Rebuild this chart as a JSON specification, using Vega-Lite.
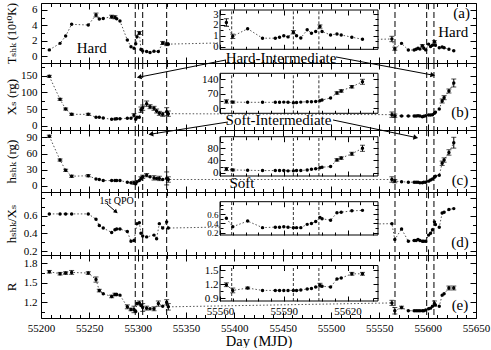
{
"$schema": "https://vega.github.io/schema/vega-lite/v6.json",
"padding": {"left": 4, "top": 1, "right": 0, "bottom": 0},
"autosize": {"type": "pad"},
"background": "white",
"config": {
  "view": {"stroke": "black", "strokeWidth": 1},
  "font": "Liberation Serif",
  "axis": {"labelFont": "Liberation Serif", "labelFontSize": 11, "labelColor": "black", "tickColor": "black", "tickWidth": 1, "titleFont": "Liberation Serif, DejaVu Serif", "titleFontWeight": "normal", "titleColor": "black", "grid": false, "domain": false, "labelOverlap": false, "labelFlush": false, "labelBound": false}
},
"datasets": {
  "vr": [{"d":55297.5},{"d":55305.2},{"d":55330},{"d":55566.2},{"d":55599},{"d":55606.5}],
  "ir": [{"d":55565.5},{"d":55594.5},{"d":55606.5}],
  "ann": [
    {"p":"a","k":"big","d":55252.4,"v":1.0,"t":"Hard"},
    {"p":"a","k":"big","d":55626.5,"v":3.17,"t":"Hard"},
    {"p":"a","k":"big","d":55635.2,"v":5.57,"t":"(a)"},
    {"p":"b","k":"big","d":55448.3,"v":203,"t":"Hard-Intermediate"},
    {"p":"b","k":"big","d":55633.4,"v":42,"t":"(b)"},
    {"p":"c","k":"big","d":55445.7,"v":122,"t":"Soft-Intermediate"},
    {"p":"c","k":"big","d":55407.9,"v":5.5,"t":"Soft"},
    {"p":"c","k":"big","d":55633.4,"v":11.1,"t":"(c)"},
    {"p":"d","k":"small","d":55278.3,"v":0.77,"t":"1st QPO"},
    {"p":"d","k":"big","d":55633.4,"v":0.306,"t":"(d)"},
    {"p":"e","k":"big","d":55633.4,"v":1.154,"t":"(e)"}
  ],
  "arr": [
    {"p":"b","id":"hil","d":55391.4,"v":197.1,"d2":55302.4,"v2":146.1},
    {"p":"b","id":"hir","d":55505.2,"v":206.1,"d2":55604.5,"v2":152.1},
    {"p":"c","id":"sil","d":55393.4,"v":118.3,"d2":55314.5,"v2":96.1},
    {"p":"c","id":"sir","d":55502.1,"v":122,"d2":55586.9,"v2":90.0},
    {"p":"d","id":"qpo","d":55268.3,"v":0.732,"d2":55277.1,"v2":0.648}
  ],
  "pts": [
    {"p":"a","d":55208.6,"v":0.8},{"p":"a","d":55219.7,"v":1.65},{"p":"a","d":55225.5,"v":2.6},{"p":"a","d":55231.7,"v":4.13},{"p":"a","d":55248.9,"v":4.04},{"p":"a","d":55256.9,"v":5.35,"e":0.25},{"p":"a","d":55260.3,"v":4.82},{"p":"a","d":55264.4,"v":4.9},{"p":"a","d":55273.1,"v":5.12,"e":0.2},{"p":"a","d":55276.5,"v":5.05,"e":0.2},{"p":"a","d":55278.3,"v":4.85},{"p":"a","d":55281.7,"v":4.56},{"p":"a","d":55289.3,"v":2.09},{"p":"a","d":55293.1,"v":1.2},{"p":"a","d":55296.2,"v":1.0},{"p":"a","d":55298,"v":1.6},{"p":"a","d":55299.3,"v":2.5},{"p":"a","d":55301.7,"v":3.0,"e":0.2},{"p":"a","d":55303.4,"v":0.85},{"p":"a","d":55305.2,"v":0.65},{"p":"a","d":55309.3,"v":0.6},{"p":"a","d":55312.8,"v":0.45},{"p":"a","d":55316.9,"v":0.62},{"p":"a","d":55321.4,"v":0.6},{"p":"a","d":55325.9,"v":1.7,"e":0.2},{"p":"a","d":55330,"v":1.55,"e":0.2},{"p":"a","d":55331.7,"v":1.55},
    {"p":"a","d":55563,"v":2.22,"e":0.35},{"p":"a","d":55566,"v":0.95,"e":0.2},{"p":"a","d":55573,"v":1.65},{"p":"a","d":55580,"v":0.78},{"p":"a","d":55586,"v":0.78},{"p":"a","d":55588,"v":0.87},{"p":"a","d":55590,"v":1.0},{"p":"a","d":55592,"v":0.9},{"p":"a","d":55594.5,"v":1.33,"e":0.15},{"p":"a","d":55596,"v":1.0},{"p":"a","d":55598,"v":0.8},{"p":"a","d":55601,"v":1.55},{"p":"a","d":55603,"v":1.24},{"p":"a","d":55605,"v":1.4},{"p":"a","d":55607,"v":1.85,"e":0.15},{"p":"a","d":55608,"v":1.39},{"p":"a","d":55612,"v":1.08},{"p":"a","d":55615,"v":1.17},{"p":"a","d":55617,"v":1.08},{"p":"a","d":55622,"v":0.87},{"p":"a","d":55627,"v":0.68},
    {"p":"b","d":55208.6,"v":148,"e":3},{"p":"b","d":55219.7,"v":79,"e":3},{"p":"b","d":55225.5,"v":50,"e":3},{"p":"b","d":55231.7,"v":34,"e":3},{"p":"b","d":55248.9,"v":34,"e":3},{"p":"b","d":55256.9,"v":25},{"p":"b","d":55260.3,"v":25},{"p":"b","d":55264.4,"v":23},{"p":"b","d":55273.1,"v":19},{"p":"b","d":55276.5,"v":20},{"p":"b","d":55278.3,"v":21},{"p":"b","d":55281.7,"v":21},{"p":"b","d":55289.3,"v":22},{"p":"b","d":55293.1,"v":22},{"p":"b","d":55296.2,"v":31,"e":5},{"p":"b","d":55298,"v":19},{"p":"b","d":55299.3,"v":25},{"p":"b","d":55301.7,"v":25},{"p":"b","d":55303.4,"v":48,"e":8},{"p":"b","d":55305.2,"v":54,"e":8},{"p":"b","d":55309.3,"v":66,"e":8},{"p":"b","d":55312.8,"v":57,"e":6},{"p":"b","d":55316.9,"v":52,"e":6},{"p":"b","d":55319.6,"v":44,"e":6},{"p":"b","d":55322.4,"v":37,"e":6},{"p":"b","d":55325.9,"v":34,"e":6},{"p":"b","d":55330,"v":42,"e":12},{"p":"b","d":55331.7,"v":36,"e":8},
    {"p":"b","d":55563,"v":33,"e":8},{"p":"b","d":55566,"v":30,"e":5},{"p":"b","d":55573,"v":29},{"p":"b","d":55580,"v":29},{"p":"b","d":55586,"v":29},{"p":"b","d":55588,"v":29},{"p":"b","d":55590,"v":30},{"p":"b","d":55592,"v":29},{"p":"b","d":55594.5,"v":27},{"p":"b","d":55596,"v":28},{"p":"b","d":55598,"v":30},{"p":"b","d":55601,"v":32},{"p":"b","d":55603,"v":32},{"p":"b","d":55605,"v":33},{"p":"b","d":55607,"v":37},{"p":"b","d":55608,"v":40},{"p":"b","d":55612,"v":50},{"p":"b","d":55615,"v":74,"e":6},{"p":"b","d":55617,"v":84,"e":6},{"p":"b","d":55622,"v":104,"e":6},{"p":"b","d":55627,"v":128,"e":12},
    {"p":"c","d":55208.6,"v":92,"e":2},{"p":"c","d":55219.7,"v":48,"e":2},{"p":"c","d":55225.5,"v":29,"e":2},{"p":"c","d":55231.7,"v":18,"e":2},{"p":"c","d":55248.9,"v":19,"e":2},{"p":"c","d":55256.9,"v":13},{"p":"c","d":55260.3,"v":12},{"p":"c","d":55264.4,"v":10},{"p":"c","d":55273.1,"v":10},{"p":"c","d":55276.5,"v":10},{"p":"c","d":55278.3,"v":10},{"p":"c","d":55281.7,"v":10},{"p":"c","d":55289.3,"v":7},{"p":"c","d":55293.1,"v":6},{"p":"c","d":55296.2,"v":6,"e":3},{"p":"c","d":55298,"v":4},{"p":"c","d":55299.3,"v":8},{"p":"c","d":55301.7,"v":10},{"p":"c","d":55303.4,"v":14,"e":3},{"p":"c","d":55305.2,"v":17,"e":3},{"p":"c","d":55309.3,"v":20,"e":3},{"p":"c","d":55312.8,"v":17},{"p":"c","d":55316.9,"v":15,"e":4},{"p":"c","d":55319.6,"v":14},{"p":"c","d":55322.4,"v":14,"e":4},{"p":"c","d":55325.9,"v":12},{"p":"c","d":55330,"v":14,"e":12},{"p":"c","d":55331.7,"v":12,"e":5},
    {"p":"c","d":55563,"v":12,"e":5},{"p":"c","d":55566,"v":9,"e":3},{"p":"c","d":55573,"v":8},{"p":"c","d":55580,"v":7},{"p":"c","d":55586,"v":7},{"p":"c","d":55588,"v":7},{"p":"c","d":55590,"v":7},{"p":"c","d":55592,"v":6},{"p":"c","d":55594.5,"v":6},{"p":"c","d":55596,"v":7},{"p":"c","d":55598,"v":7},{"p":"c","d":55601,"v":9},{"p":"c","d":55603,"v":11},{"p":"c","d":55605,"v":13},{"p":"c","d":55607,"v":16},{"p":"c","d":55608,"v":18},{"p":"c","d":55612,"v":20},{"p":"c","d":55615,"v":42,"e":4},{"p":"c","d":55617,"v":48,"e":4},{"p":"c","d":55622,"v":62,"e":5},{"p":"c","d":55627,"v":80,"e":10},
    {"p":"d","d":55208.6,"v":0.62},{"p":"d","d":55219.7,"v":0.62},{"p":"d","d":55225.5,"v":0.62},{"p":"d","d":55231.7,"v":0.62},{"p":"d","d":55248.9,"v":0.62},{"p":"d","d":55256.9,"v":0.56},{"p":"d","d":55260.3,"v":0.49},{"p":"d","d":55264.4,"v":0.46},{"p":"d","d":55273.1,"v":0.41},{"p":"d","d":55276.5,"v":0.44},{"p":"d","d":55278.3,"v":0.45},{"p":"d","d":55281.7,"v":0.45},{"p":"d","d":55289.3,"v":0.42},{"p":"d","d":55293.1,"v":0.31},{"p":"d","d":55296.2,"v":0.32},{"p":"d","d":55299.3,"v":0.51},{"p":"d","d":55301.7,"v":0.52},{"p":"d","d":55303.4,"v":0.4},{"p":"d","d":55305.2,"v":0.37},{"p":"d","d":55309.3,"v":0.36},{"p":"d","d":55316.9,"v":0.38},{"p":"d","d":55319.6,"v":0.34},{"p":"d","d":55322.4,"v":0.51},{"p":"d","d":55325.9,"v":0.46},{"p":"d","d":55330,"v":0.53},{"p":"d","d":55331.7,"v":0.46},
    {"p":"d","d":55563,"v":0.51},{"p":"d","d":55566,"v":0.33},{"p":"d","d":55573,"v":0.45},{"p":"d","d":55580,"v":0.31},{"p":"d","d":55586,"v":0.32},{"p":"d","d":55588,"v":0.32},{"p":"d","d":55590,"v":0.33},{"p":"d","d":55592,"v":0.32},{"p":"d","d":55594.5,"v":0.31},{"p":"d","d":55596,"v":0.31},{"p":"d","d":55598,"v":0.31},{"p":"d","d":55601,"v":0.38},{"p":"d","d":55603,"v":0.4},{"p":"d","d":55605,"v":0.44},{"p":"d","d":55607,"v":0.53},{"p":"d","d":55608,"v":0.5},{"p":"d","d":55612,"v":0.47},{"p":"d","d":55615,"v":0.63},{"p":"d","d":55617,"v":0.64},{"p":"d","d":55622,"v":0.67},{"p":"d","d":55627,"v":0.68},
    {"p":"e","d":55208.6,"v":1.67,"e":0.02},{"p":"e","d":55219.7,"v":1.64,"e":0.02},{"p":"e","d":55225.5,"v":1.65,"e":0.02},{"p":"e","d":55231.7,"v":1.66,"e":0.03},{"p":"e","d":55248.9,"v":1.65,"e":0.02},{"p":"e","d":55256.9,"v":1.55,"e":0.04},{"p":"e","d":55260.3,"v":1.38,"e":0.02},{"p":"e","d":55264.4,"v":1.33},{"p":"e","d":55273.1,"v":1.29,"e":0.02},{"p":"e","d":55276.5,"v":1.32,"e":0.02},{"p":"e","d":55278.3,"v":1.32},{"p":"e","d":55281.7,"v":1.31},{"p":"e","d":55289.3,"v":1.13,"e":0.03},{"p":"e","d":55293.1,"v":1.09,"e":0.02},{"p":"e","d":55296.2,"v":1.09,"e":0.05},{"p":"e","d":55298,"v":1.06},{"p":"e","d":55299.3,"v":1.18},{"p":"e","d":55301.7,"v":1.19,"e":0.03},{"p":"e","d":55303.4,"v":1.15},{"p":"e","d":55305.2,"v":1.12,"e":0.06},{"p":"e","d":55309.3,"v":1.11,"e":0.03},{"p":"e","d":55312.8,"v":1.1},{"p":"e","d":55316.9,"v":1.1,"e":0.03},{"p":"e","d":55321.4,"v":1.18,"e":0.04},{"p":"e","d":55325.9,"v":1.14},{"p":"e","d":55330,"v":1.2,"e":0.04},{"p":"e","d":55331.7,"v":1.13,"e":0.05},
    {"p":"e","d":55563,"v":1.19,"e":0.04},{"p":"e","d":55566,"v":1.07,"e":0.05},{"p":"e","d":55573,"v":1.12,"e":0.02},{"p":"e","d":55580,"v":1.07},{"p":"e","d":55586,"v":1.07},{"p":"e","d":55588,"v":1.07},{"p":"e","d":55590,"v":1.07},{"p":"e","d":55592,"v":1.07},{"p":"e","d":55594.5,"v":1.07},{"p":"e","d":55596,"v":1.07},{"p":"e","d":55598,"v":1.08},{"p":"e","d":55601,"v":1.1},{"p":"e","d":55603,"v":1.11},{"p":"e","d":55605,"v":1.14},{"p":"e","d":55607,"v":1.18,"e":0.04},{"p":"e","d":55608,"v":1.16},{"p":"e","d":55612,"v":1.14},{"p":"e","d":55615,"v":1.31},{"p":"e","d":55617,"v":1.33},{"p":"e","d":55622,"v":1.42,"e":0.03},{"p":"e","d":55627,"v":1.42,"e":0.03}
  ]
},
"spacing": 0,
"bounds": "flush",
"resolve": {"scale": {"x": "independent", "y": "independent"}},
"vconcat": [
{
 "width": 435, "height": 60,
 "resolve": {"scale": {"x": "independent", "y": "independent"}},
 "layer": [
  {"layer": [
    {"data": {"name": "vr"}, "mark": {"type": "rule", "color": "black", "strokeWidth": 1, "strokeDash": [6, 3]},
     "encoding": {"x": {"field": "d", "type": "quantitative", "axis": null, "scale": {"domain": [55200, 55650], "nice": false, "zero": false}}}},
    {"data": {"name": "pts"}, "transform": [{"filter": "datum.p === 'a'"}],
     "encoding": {"x": {"field": "d", "type": "quantitative", "axis": null},
       "y": {"field": "v", "type": "quantitative", "axis": null, "scale": {"domain": [-0.91, 6.91], "nice": false, "zero": false}}},
     "layer": [
       {"mark": {"type": "line", "color": "#555", "strokeWidth": 1, "strokeDash": [1.5, 2]}},
       {"transform": [{"filter": "datum.e > 0"}], "mark": {"type": "errorbar", "ticks": true, "size": 5, "thickness": 1, "color": "black"}, "encoding": {"yError": {"field": "e"}}},
       {"mark": {"type": "circle", "size": 12, "color": "black", "opacity": 1}}
     ]},
    {"data": {"name": "ann"}, "transform": [{"filter": "datum.p === 'a'"}],
     "mark": {"type": "text", "font": "Liberation Serif", "fontSize": 15, "color": "black", "align": "center", "baseline": "middle"},
     "encoding": {"x": {"field": "d", "type": "quantitative", "axis": null}, "y": {"field": "v", "type": "quantitative", "axis": null}, "text": {"field": "t"}}}
  ]},
  {"data": {"values": [{}]}, "mark": {"type": "point", "opacity": 0},
   "encoding": {"x": {"datum": 55400, "type": "quantitative", "scale": {"domain": [55200, 55650], "nice": false, "zero": false},
      "axis": {"orient": "bottom", "values": [55200,55210,55220,55230,55240,55250,55260,55270,55280,55290,55300,55310,55320,55330,55340,55350,55360,55370,55380,55390,55400,55410,55420,55430,55440,55450,55460,55470,55480,55490,55500,55510,55520,55530,55540,55550,55560,55570,55580,55590,55600,55610,55620,55630,55640,55650], "labels": false, "tickSize": {"condition": {"test": "datum.value % 50 === 0", "value": -6}, "value": -3.5}, "title": null}},
     "y": {"datum": 1, "type": "quantitative", "scale": {"domain": [-0.91, 6.91], "nice": false, "zero": false},
      "axis": {"title": "Tₛₕₖ (10¹⁰K)", "orient": "left", "values": [0,2,4,6], "format": "d", "labelOverlap": false, "tickSize": -6, "labelPadding": 10, "titleX": -30, "titleY": 30, "titleAngle": -90, "titleAlign": "center", "titleBaseline": "middle", "titleFontSize": 12}}}},
  {"data": {"values": [{}]}, "mark": {"type": "point", "opacity": 0},
   "encoding": {"x": {"datum": 55400, "type": "quantitative", "scale": {"domain": [55200, 55650], "nice": false, "zero": false},
      "axis": {"orient": "top", "values": [55200,55210,55220,55230,55240,55250,55260,55270,55280,55290,55300,55310,55320,55330,55340,55350,55360,55370,55380,55390,55400,55410,55420,55430,55440,55450,55460,55470,55480,55490,55500,55510,55520,55530,55540,55550,55560,55570,55580,55590,55600,55610,55620,55630,55640,55650], "labels": false, "tickSize": {"condition": {"test": "datum.value % 50 === 0", "value": -6}, "value": -3.5}, "title": null}},
     "y": {"datum": 1, "type": "quantitative", "scale": {"domain": [-0.91, 6.91], "nice": false, "zero": false},
      "axis": {"orient": "right", "values": [0,1,2,3,4,5,6], "labels": false, "tickSize": {"condition": {"test": "datum.value % 2 === 0", "value": -6}, "value": -3.5}, "title": null}}}},
  {"data": {"values": [{}]}, "mark": {"type": "point", "opacity": 0},
   "encoding": {"x": {"datum": 55400, "type": "quantitative", "scale": {"domain": [55200, 55650], "nice": false, "zero": false}, "axis": null},
     "y": {"datum": 1, "type": "quantitative", "scale": {"domain": [-0.91, 6.91], "nice": false, "zero": false},
      "axis": {"orient": "left", "values": [1,3,5], "labels": false, "tickSize": -3.5, "title": null}}}},
  {"layer": [
    {"data": {"values": [{}]}, "mark": {"type": "rect", "fill": "white", "stroke": "black", "strokeWidth": 1},
     "encoding": {"x": {"datum": 55560, "type": "quantitative", "axis": null, "scale": {"domain": [55560, 55634.3], "range": [179, 337], "nice": false, "zero": false}}, "x2": {"datum": 55634.3},
       "y": {"datum": -0.24, "type": "quantitative", "axis": null, "scale": {"domain": [-0.24, 3.37], "range": [46.3, 7], "nice": false, "zero": false}}, "y2": {"datum": 3.37}}},
    {"data": {"name": "ir"}, "mark": {"type": "rule", "color": "black", "strokeWidth": 0.8, "strokeDash": [3, 2]},
     "encoding": {"x": {"field": "d", "type": "quantitative", "axis": null}, "y": {"datum": -0.24, "type": "quantitative", "axis": null}, "y2": {"datum": 3.37}}},
    {"data": {"name": "pts"}, "transform": [{"filter": "datum.p === 'a' && datum.d > 55500"}],
     "encoding": {"x": {"field": "d", "type": "quantitative", "axis": null}, "y": {"field": "v", "type": "quantitative", "axis": null}},
     "layer": [
       {"mark": {"type": "line", "color": "#555", "strokeWidth": 1, "strokeDash": [1.5, 2]}},
       {"transform": [{"filter": "datum.e > 0"}], "mark": {"type": "errorbar", "ticks": true, "size": 5, "thickness": 1, "color": "black"}, "encoding": {"yError": {"field": "e"}}},
       {"mark": {"type": "circle", "size": 12, "color": "black", "opacity": 1}}
     ]}
  ]},
  {"data": {"values": [{}]}, "mark": {"type": "point", "opacity": 0},
   "encoding": {"x": {"datum": 55600, "type": "quantitative", "scale": {"domain": [55560, 55634.3], "range": [179, 337], "nice": false, "zero": false},
      "axis": {"orient": "bottom", "offset": -13.7, "values": [55560,55566,55572,55578,55584,55590,55596,55602,55608,55614,55620,55626,55632], "labels": false, "tickSize": {"condition": {"test": "(datum.value - 55560) % 30 === 0", "value": -5}, "value": -3}, "title": null, "zindex": 1}},
     "y": {"datum": 1, "type": "quantitative", "scale": {"domain": [-0.24, 3.37], "range": [46.3, 7], "nice": false, "zero": false},
      "axis": {"orient": "left", "offset": -179, "values": [0,1,2,3], "format": "d", "labelOverlap": false, "labelFontSize": 10.5, "tickSize": -5, "labelPadding": 7, "title": null, "zindex": 1}}}},
  {"data": {"values": [{}]}, "mark": {"type": "point", "opacity": 0},
   "encoding": {"x": {"datum": 55600, "type": "quantitative", "scale": {"domain": [55560, 55634.3], "range": [179, 337], "nice": false, "zero": false},
      "axis": {"orient": "top", "offset": -7, "values": [55560,55566,55572,55578,55584,55590,55596,55602,55608,55614,55620,55626,55632], "labels": false, "tickSize": {"condition": {"test": "(datum.value - 55560) % 30 === 0", "value": -5}, "value": -3}, "title": null, "zindex": 1}},
     "y": {"datum": 1, "type": "quantitative", "scale": {"domain": [-0.24, 3.37], "range": [46.3, 7], "nice": false, "zero": false},
      "axis": {"orient": "right", "offset": -98, "values": [0,0.5,1,1.5,2,2.5,3], "labels": false, "tickSize": {"condition": {"test": "datum.value % 1 === 0", "value": -5}, "value": -3}, "title": null, "zindex": 1}}}},
  {"data": {"values": [{}]}, "mark": {"type": "point", "opacity": 0},
   "encoding": {"x": {"datum": 55600, "type": "quantitative", "scale": {"domain": [55560, 55634.3], "range": [179, 337], "nice": false, "zero": false}, "axis": null},
     "y": {"datum": 1, "type": "quantitative", "scale": {"domain": [-0.24, 3.37], "range": [46.3, 7], "nice": false, "zero": false},
      "axis": {"orient": "left", "offset": -179, "values": [0.5,1.5,2.5], "labels": false, "tickSize": -3, "title": null, "zindex": 1}}}}
 ]
},
{
 "width": 435, "height": 67,
 "resolve": {"scale": {"x": "independent", "y": "independent"}},
 "layer": [
  {"layer": [
    {"data": {"name": "vr"}, "mark": {"type": "rule", "color": "black", "strokeWidth": 1, "strokeDash": [6, 3]},
     "encoding": {"x": {"field": "d", "type": "quantitative", "axis": null, "scale": {"domain": [55200, 55650], "nice": false, "zero": false}}}},
    {"data": {"name": "pts"}, "transform": [{"filter": "datum.p === 'b'"}],
     "encoding": {"x": {"field": "d", "type": "quantitative", "axis": null},
       "y": {"field": "v", "type": "quantitative", "axis": null, "scale": {"domain": [-13, 188], "nice": false, "zero": false}}},
     "layer": [
       {"mark": {"type": "line", "color": "#555", "strokeWidth": 1, "strokeDash": [1.5, 2]}},
       {"transform": [{"filter": "datum.e > 0"}], "mark": {"type": "errorbar", "ticks": true, "size": 5, "thickness": 1, "color": "black"}, "encoding": {"yError": {"field": "e"}}},
       {"mark": {"type": "circle", "size": 12, "color": "black", "opacity": 1}}
     ]},
    {"data": {"name": "arr"}, "transform": [{"filter": "datum.p === 'b'"}], "mark": {"type": "rule", "color": "black", "strokeWidth": 1},
     "encoding": {"x": {"field": "d", "type": "quantitative", "axis": null}, "x2": {"field": "d2"}, "y": {"field": "v", "type": "quantitative", "axis": null}, "y2": {"field": "v2"}}},
    {"data": {"name": "arr"}, "transform": [{"filter": "datum.id === 'hil'"}], "mark": {"type": "point", "shape": "triangle", "angle": 259, "size": 30, "filled": true, "color": "black", "opacity": 1},
     "encoding": {"x": {"field": "d2", "type": "quantitative", "axis": null}, "y": {"field": "v2", "type": "quantitative", "axis": null}}},
    {"data": {"name": "arr"}, "transform": [{"filter": "datum.id === 'hir'"}], "mark": {"type": "point", "shape": "triangle", "angle": 101, "size": 30, "filled": true, "color": "black", "opacity": 1},
     "encoding": {"x": {"field": "d2", "type": "quantitative", "axis": null}, "y": {"field": "v2", "type": "quantitative", "axis": null}}},
    {"data": {"name": "ann"}, "transform": [{"filter": "datum.p === 'b'"}],
     "mark": {"type": "text", "font": "Liberation Serif", "fontSize": 15, "color": "black", "align": "center", "baseline": "middle"},
     "encoding": {"x": {"field": "d", "type": "quantitative", "axis": null}, "y": {"field": "v", "type": "quantitative", "axis": null}, "text": {"field": "t"}}}
  ]},
  {"data": {"values": [{}]}, "mark": {"type": "point", "opacity": 0},
   "encoding": {"x": {"datum": 55400, "type": "quantitative", "scale": {"domain": [55200, 55650], "nice": false, "zero": false},
      "axis": {"orient": "bottom", "values": [55200,55210,55220,55230,55240,55250,55260,55270,55280,55290,55300,55310,55320,55330,55340,55350,55360,55370,55380,55390,55400,55410,55420,55430,55440,55450,55460,55470,55480,55490,55500,55510,55520,55530,55540,55550,55560,55570,55580,55590,55600,55610,55620,55630,55640,55650], "labels": false, "tickSize": {"condition": {"test": "datum.value % 50 === 0", "value": -6}, "value": -3.5}, "title": null}},
     "y": {"datum": 1, "type": "quantitative", "scale": {"domain": [-13, 188], "nice": false, "zero": false},
      "axis": {"title": "Xₛ (rg)", "orient": "left", "values": [0,50,100,150], "format": "d", "labelOverlap": false, "tickSize": -6, "labelPadding": 10, "titleX": -30, "titleY": 33.5, "titleAngle": -90, "titleAlign": "center", "titleBaseline": "middle", "titleFontSize": 13}}}},
  {"data": {"values": [{}]}, "mark": {"type": "point", "opacity": 0},
   "encoding": {"x": {"datum": 55400, "type": "quantitative", "scale": {"domain": [55200, 55650], "nice": false, "zero": false},
      "axis": {"orient": "top", "values": [55200,55210,55220,55230,55240,55250,55260,55270,55280,55290,55300,55310,55320,55330,55340,55350,55360,55370,55380,55390,55400,55410,55420,55430,55440,55450,55460,55470,55480,55490,55500,55510,55520,55530,55540,55550,55560,55570,55580,55590,55600,55610,55620,55630,55640,55650], "labels": false, "tickSize": {"condition": {"test": "datum.value % 50 === 0", "value": -6}, "value": -3.5}, "title": null}},
     "y": {"datum": 1, "type": "quantitative", "scale": {"domain": [-13, 188], "nice": false, "zero": false},
      "axis": {"orient": "right", "values": [0,25,50,75,100,125,150,175], "labels": false, "tickSize": {"condition": {"test": "datum.value % 50 === 0", "value": -6}, "value": -3.5}, "title": null}}}},
  {"data": {"values": [{}]}, "mark": {"type": "point", "opacity": 0},
   "encoding": {"x": {"datum": 55400, "type": "quantitative", "scale": {"domain": [55200, 55650], "nice": false, "zero": false}, "axis": null},
     "y": {"datum": 1, "type": "quantitative", "scale": {"domain": [-13, 188], "nice": false, "zero": false},
      "axis": {"orient": "left", "values": [25,75,125,175], "labels": false, "tickSize": -3.5, "title": null}}}},
  {"layer": [
    {"data": {"values": [{}]}, "mark": {"type": "rect", "fill": "white", "stroke": "black", "strokeWidth": 1},
     "encoding": {"x": {"datum": 55560, "type": "quantitative", "axis": null, "scale": {"domain": [55560, 55634.3], "range": [179, 337], "nice": false, "zero": false}}, "x2": {"datum": 55634.3},
       "y": {"datum": -24, "type": "quantitative", "axis": null, "scale": {"domain": [-24, 169], "range": [50.3, 10.3], "nice": false, "zero": false}}, "y2": {"datum": 169}}},
    {"data": {"name": "ir"}, "mark": {"type": "rule", "color": "black", "strokeWidth": 0.8, "strokeDash": [3, 2]},
     "encoding": {"x": {"field": "d", "type": "quantitative", "axis": null}, "y": {"datum": -24, "type": "quantitative", "axis": null}, "y2": {"datum": 169}}},
    {"data": {"name": "pts"}, "transform": [{"filter": "datum.p === 'b' && datum.d > 55500"}],
     "encoding": {"x": {"field": "d", "type": "quantitative", "axis": null}, "y": {"field": "v", "type": "quantitative", "axis": null}},
     "layer": [
       {"mark": {"type": "line", "color": "#555", "strokeWidth": 1, "strokeDash": [1.5, 2]}},
       {"transform": [{"filter": "datum.e > 0"}], "mark": {"type": "errorbar", "ticks": true, "size": 5, "thickness": 1, "color": "black"}, "encoding": {"yError": {"field": "e"}}},
       {"mark": {"type": "circle", "size": 12, "color": "black", "opacity": 1}}
     ]}
  ]},
  {"data": {"values": [{}]}, "mark": {"type": "point", "opacity": 0},
   "encoding": {"x": {"datum": 55600, "type": "quantitative", "scale": {"domain": [55560, 55634.3], "range": [179, 337], "nice": false, "zero": false},
      "axis": {"orient": "bottom", "offset": -16.7, "values": [55560,55566,55572,55578,55584,55590,55596,55602,55608,55614,55620,55626,55632], "labels": false, "tickSize": {"condition": {"test": "(datum.value - 55560) % 30 === 0", "value": -5}, "value": -3}, "title": null, "zindex": 1}},
     "y": {"datum": 1, "type": "quantitative", "scale": {"domain": [-24, 169], "range": [50.3, 10.3], "nice": false, "zero": false},
      "axis": {"orient": "left", "offset": -179, "values": [0,70,140], "format": "d", "labelOverlap": false, "tickSize": -5, "labelPadding": 7, "title": null, "zindex": 1}}}},
  {"data": {"values": [{}]}, "mark": {"type": "point", "opacity": 0},
   "encoding": {"x": {"datum": 55600, "type": "quantitative", "scale": {"domain": [55560, 55634.3], "range": [179, 337], "nice": false, "zero": false},
      "axis": {"orient": "top", "offset": -10.3, "values": [55560,55566,55572,55578,55584,55590,55596,55602,55608,55614,55620,55626,55632], "labels": false, "tickSize": {"condition": {"test": "(datum.value - 55560) % 30 === 0", "value": -5}, "value": -3}, "title": null, "zindex": 1}},
     "y": {"datum": 1, "type": "quantitative", "scale": {"domain": [-24, 169], "range": [50.3, 10.3], "nice": false, "zero": false},
      "axis": {"orient": "right", "offset": -98, "values": [0,35,70,105,140], "labels": false, "tickSize": {"condition": {"test": "datum.value % 70 === 0", "value": -5}, "value": -3}, "title": null, "zindex": 1}}}},
  {"data": {"values": [{}]}, "mark": {"type": "point", "opacity": 0},
   "encoding": {"x": {"datum": 55600, "type": "quantitative", "scale": {"domain": [55560, 55634.3], "range": [179, 337], "nice": false, "zero": false}, "axis": null},
     "y": {"datum": 1, "type": "quantitative", "scale": {"domain": [-24, 169], "range": [50.3, 10.3], "nice": false, "zero": false},
      "axis": {"orient": "left", "offset": -179, "values": [35,105], "labels": false, "tickSize": -3, "title": null, "zindex": 1}}}}
 ]
},
{
 "width": 435, "height": 62,
 "resolve": {"scale": {"x": "independent", "y": "independent"}},
 "layer": [
  {"layer": [
    {"data": {"name": "vr"}, "mark": {"type": "rule", "color": "black", "strokeWidth": 1, "strokeDash": [6, 3]},
     "encoding": {"x": {"field": "d", "type": "quantitative", "axis": null, "scale": {"domain": [55200, 55650], "nice": false, "zero": false}}}},
    {"data": {"name": "pts"}, "transform": [{"filter": "datum.p === 'c'"}],
     "encoding": {"x": {"field": "d", "type": "quantitative", "axis": null},
       "y": {"field": "v", "type": "quantitative", "axis": null, "scale": {"domain": [-11.1, 103.5], "nice": false, "zero": false}}},
     "layer": [
       {"mark": {"type": "line", "color": "#555", "strokeWidth": 1, "strokeDash": [1.5, 2]}},
       {"transform": [{"filter": "datum.e > 0"}], "mark": {"type": "errorbar", "ticks": true, "size": 5, "thickness": 1, "color": "black"}, "encoding": {"yError": {"field": "e"}}},
       {"mark": {"type": "circle", "size": 12, "color": "black", "opacity": 1}}
     ]},
    {"data": {"name": "arr"}, "transform": [{"filter": "datum.p === 'c'"}], "mark": {"type": "rule", "color": "black", "strokeWidth": 1},
     "encoding": {"x": {"field": "d", "type": "quantitative", "axis": null}, "x2": {"field": "d2"}, "y": {"field": "v", "type": "quantitative", "axis": null}, "y2": {"field": "v2"}}},
    {"data": {"name": "arr"}, "transform": [{"filter": "datum.id === 'sil'"}], "mark": {"type": "point", "shape": "triangle", "angle": 261, "size": 30, "filled": true, "color": "black", "opacity": 1},
     "encoding": {"x": {"field": "d2", "type": "quantitative", "axis": null}, "y": {"field": "v2", "type": "quantitative", "axis": null}}},
    {"data": {"name": "arr"}, "transform": [{"filter": "datum.id === 'sir'"}], "mark": {"type": "point", "shape": "triangle", "angle": 102, "size": 30, "filled": true, "color": "black", "opacity": 1},
     "encoding": {"x": {"field": "d2", "type": "quantitative", "axis": null}, "y": {"field": "v2", "type": "quantitative", "axis": null}}},
    {"data": {"name": "ann"}, "transform": [{"filter": "datum.p === 'c'"}],
     "mark": {"type": "text", "font": "Liberation Serif", "fontSize": 15, "color": "black", "align": "center", "baseline": "middle"},
     "encoding": {"x": {"field": "d", "type": "quantitative", "axis": null}, "y": {"field": "v", "type": "quantitative", "axis": null}, "text": {"field": "t"}}}
  ]},
  {"data": {"values": [{}]}, "mark": {"type": "point", "opacity": 0},
   "encoding": {"x": {"datum": 55400, "type": "quantitative", "scale": {"domain": [55200, 55650], "nice": false, "zero": false},
      "axis": {"orient": "bottom", "values": [55200,55210,55220,55230,55240,55250,55260,55270,55280,55290,55300,55310,55320,55330,55340,55350,55360,55370,55380,55390,55400,55410,55420,55430,55440,55450,55460,55470,55480,55490,55500,55510,55520,55530,55540,55550,55560,55570,55580,55590,55600,55610,55620,55630,55640,55650], "labels": false, "tickSize": {"condition": {"test": "datum.value % 50 === 0", "value": -6}, "value": -3.5}, "title": null}},
     "y": {"datum": 1, "type": "quantitative", "scale": {"domain": [-11.1, 103.5], "nice": false, "zero": false},
      "axis": {"title": "hₛₕₖ (rg)", "orient": "left", "values": [0,30,60,90], "format": "d", "labelOverlap": false, "tickSize": -6, "labelPadding": 10, "titleX": -30, "titleY": 31, "titleAngle": -90, "titleAlign": "center", "titleBaseline": "middle", "titleFontSize": 13}}}},
  {"data": {"values": [{}]}, "mark": {"type": "point", "opacity": 0},
   "encoding": {"x": {"datum": 55400, "type": "quantitative", "scale": {"domain": [55200, 55650], "nice": false, "zero": false},
      "axis": {"orient": "top", "values": [55200,55210,55220,55230,55240,55250,55260,55270,55280,55290,55300,55310,55320,55330,55340,55350,55360,55370,55380,55390,55400,55410,55420,55430,55440,55450,55460,55470,55480,55490,55500,55510,55520,55530,55540,55550,55560,55570,55580,55590,55600,55610,55620,55630,55640,55650], "labels": false, "tickSize": {"condition": {"test": "datum.value % 50 === 0", "value": -6}, "value": -3.5}, "title": null}},
     "y": {"datum": 1, "type": "quantitative", "scale": {"domain": [-11.1, 103.5], "nice": false, "zero": false},
      "axis": {"orient": "right", "values": [0,15,30,45,60,75,90], "labels": false, "tickSize": {"condition": {"test": "datum.value % 30 === 0", "value": -6}, "value": -3.5}, "title": null}}}},
  {"data": {"values": [{}]}, "mark": {"type": "point", "opacity": 0},
   "encoding": {"x": {"datum": 55400, "type": "quantitative", "scale": {"domain": [55200, 55650], "nice": false, "zero": false}, "axis": null},
     "y": {"datum": 1, "type": "quantitative", "scale": {"domain": [-11.1, 103.5], "nice": false, "zero": false},
      "axis": {"orient": "left", "values": [15,45,75], "labels": false, "tickSize": -3.5, "title": null}}}},
  {"layer": [
    {"data": {"values": [{}]}, "mark": {"type": "rect", "fill": "white", "stroke": "black", "strokeWidth": 1},
     "encoding": {"x": {"datum": 55560, "type": "quantitative", "axis": null, "scale": {"domain": [55560, 55634.3], "range": [179, 337], "nice": false, "zero": false}}, "x2": {"datum": 55634.3},
       "y": {"datum": -10.8, "type": "quantitative", "axis": null, "scale": {"domain": [-10.8, 118], "range": [46, 6.7], "nice": false, "zero": false}}, "y2": {"datum": 118}}},
    {"data": {"name": "ir"}, "mark": {"type": "rule", "color": "black", "strokeWidth": 0.8, "strokeDash": [3, 2]},
     "encoding": {"x": {"field": "d", "type": "quantitative", "axis": null}, "y": {"datum": -10.8, "type": "quantitative", "axis": null}, "y2": {"datum": 118}}},
    {"data": {"name": "pts"}, "transform": [{"filter": "datum.p === 'c' && datum.d > 55500"}],
     "encoding": {"x": {"field": "d", "type": "quantitative", "axis": null}, "y": {"field": "v", "type": "quantitative", "axis": null}},
     "layer": [
       {"mark": {"type": "line", "color": "#555", "strokeWidth": 1, "strokeDash": [1.5, 2]}},
       {"transform": [{"filter": "datum.e > 0"}], "mark": {"type": "errorbar", "ticks": true, "size": 5, "thickness": 1, "color": "black"}, "encoding": {"yError": {"field": "e"}}},
       {"mark": {"type": "circle", "size": 12, "color": "black", "opacity": 1}}
     ]}
  ]},
  {"data": {"values": [{}]}, "mark": {"type": "point", "opacity": 0},
   "encoding": {"x": {"datum": 55600, "type": "quantitative", "scale": {"domain": [55560, 55634.3], "range": [179, 337], "nice": false, "zero": false},
      "axis": {"orient": "bottom", "offset": -16, "values": [55560,55566,55572,55578,55584,55590,55596,55602,55608,55614,55620,55626,55632], "labels": false, "tickSize": {"condition": {"test": "(datum.value - 55560) % 30 === 0", "value": -5}, "value": -3}, "title": null, "zindex": 1}},
     "y": {"datum": 1, "type": "quantitative", "scale": {"domain": [-10.8, 118], "range": [46, 6.7], "nice": false, "zero": false},
      "axis": {"orient": "left", "offset": -179, "values": [0,40,80], "format": "d", "labelOverlap": false, "tickSize": -5, "labelPadding": 7, "title": null, "zindex": 1}}}},
  {"data": {"values": [{}]}, "mark": {"type": "point", "opacity": 0},
   "encoding": {"x": {"datum": 55600, "type": "quantitative", "scale": {"domain": [55560, 55634.3], "range": [179, 337], "nice": false, "zero": false},
      "axis": {"orient": "top", "offset": -6.7, "values": [55560,55566,55572,55578,55584,55590,55596,55602,55608,55614,55620,55626,55632], "labels": false, "tickSize": {"condition": {"test": "(datum.value - 55560) % 30 === 0", "value": -5}, "value": -3}, "title": null, "zindex": 1}},
     "y": {"datum": 1, "type": "quantitative", "scale": {"domain": [-10.8, 118], "range": [46, 6.7], "nice": false, "zero": false},
      "axis": {"orient": "right", "offset": -98, "values": [0,20,40,60,80,100], "labels": false, "tickSize": {"condition": {"test": "datum.value % 40 === 0", "value": -5}, "value": -3}, "title": null, "zindex": 1}}}},
  {"data": {"values": [{}]}, "mark": {"type": "point", "opacity": 0},
   "encoding": {"x": {"datum": 55600, "type": "quantitative", "scale": {"domain": [55560, 55634.3], "range": [179, 337], "nice": false, "zero": false}, "axis": null},
     "y": {"datum": 1, "type": "quantitative", "scale": {"domain": [-10.8, 118], "range": [46, 6.7], "nice": false, "zero": false},
      "axis": {"orient": "left", "offset": -179, "values": [20,60,100], "labels": false, "tickSize": -3, "title": null, "zindex": 1}}}}
 ]
},
{
 "width": 435, "height": 63,
 "resolve": {"scale": {"x": "independent", "y": "independent"}},
 "layer": [
  {"layer": [
    {"data": {"name": "vr"}, "mark": {"type": "rule", "color": "black", "strokeWidth": 1, "strokeDash": [6, 3]},
     "encoding": {"x": {"field": "d", "type": "quantitative", "axis": null, "scale": {"domain": [55200, 55650], "nice": false, "zero": false}}}},
    {"data": {"name": "pts"}, "transform": [{"filter": "datum.p === 'd'"}],
     "encoding": {"x": {"field": "d", "type": "quantitative", "axis": null},
       "y": {"field": "v", "type": "quantitative", "axis": null, "scale": {"domain": [0.155, 0.868], "nice": false, "zero": false}}},
     "layer": [
       {"mark": {"type": "line", "color": "#555", "strokeWidth": 1, "strokeDash": [1.5, 2]}},
       {"mark": {"type": "circle", "size": 12, "color": "black", "opacity": 1}}
     ]},
    {"data": {"name": "arr"}, "transform": [{"filter": "datum.p === 'd'"}], "mark": {"type": "rule", "color": "black", "strokeWidth": 1},
     "encoding": {"x": {"field": "d", "type": "quantitative", "axis": null}, "x2": {"field": "d2"}, "y": {"field": "v", "type": "quantitative", "axis": null}, "y2": {"field": "v2"}}},
    {"data": {"name": "arr"}, "transform": [{"filter": "datum.id === 'qpo'"}], "mark": {"type": "point", "shape": "triangle", "angle": 131, "size": 22, "filled": true, "color": "black", "opacity": 1},
     "encoding": {"x": {"field": "d2", "type": "quantitative", "axis": null}, "y": {"field": "v2", "type": "quantitative", "axis": null}}},
    {"data": {"name": "ann"}, "transform": [{"filter": "datum.p === 'd' && datum.k === 'big'"}],
     "mark": {"type": "text", "font": "Liberation Serif", "fontSize": 15, "color": "black", "align": "center", "baseline": "middle"},
     "encoding": {"x": {"field": "d", "type": "quantitative", "axis": null}, "y": {"field": "v", "type": "quantitative", "axis": null}, "text": {"field": "t"}}},
    {"data": {"name": "ann"}, "transform": [{"filter": "datum.p === 'd' && datum.k === 'small'"}],
     "mark": {"type": "text", "font": "Liberation Serif", "fontSize": 10, "color": "black", "align": "center", "baseline": "middle"},
     "encoding": {"x": {"field": "d", "type": "quantitative", "axis": null}, "y": {"field": "v", "type": "quantitative", "axis": null}, "text": {"field": "t"}}}
  ]},
  {"data": {"values": [{}]}, "mark": {"type": "point", "opacity": 0},
   "encoding": {"x": {"datum": 55400, "type": "quantitative", "scale": {"domain": [55200, 55650], "nice": false, "zero": false},
      "axis": {"orient": "bottom", "values": [55200,55210,55220,55230,55240,55250,55260,55270,55280,55290,55300,55310,55320,55330,55340,55350,55360,55370,55380,55390,55400,55410,55420,55430,55440,55450,55460,55470,55480,55490,55500,55510,55520,55530,55540,55550,55560,55570,55580,55590,55600,55610,55620,55630,55640,55650], "labels": false, "tickSize": {"condition": {"test": "datum.value % 50 === 0", "value": -6}, "value": -3.5}, "title": null}},
     "y": {"datum": 0.5, "type": "quantitative", "scale": {"domain": [0.155, 0.868], "nice": false, "zero": false},
      "axis": {"title": "hₛₕₖ/Xₛ", "orient": "left", "values": [0.2,0.4,0.6], "format": ".1f", "labelOverlap": false, "tickSize": -6, "labelPadding": 10, "titleX": -30, "titleY": 31.5, "titleAngle": -90, "titleAlign": "center", "titleBaseline": "middle", "titleFontSize": 13}}}},
  {"data": {"values": [{}]}, "mark": {"type": "point", "opacity": 0},
   "encoding": {"x": {"datum": 55400, "type": "quantitative", "scale": {"domain": [55200, 55650], "nice": false, "zero": false},
      "axis": {"orient": "top", "values": [55200,55210,55220,55230,55240,55250,55260,55270,55280,55290,55300,55310,55320,55330,55340,55350,55360,55370,55380,55390,55400,55410,55420,55430,55440,55450,55460,55470,55480,55490,55500,55510,55520,55530,55540,55550,55560,55570,55580,55590,55600,55610,55620,55630,55640,55650], "labels": false, "tickSize": {"condition": {"test": "datum.value % 50 === 0", "value": -6}, "value": -3.5}, "title": null}},
     "y": {"datum": 0.5, "type": "quantitative", "scale": {"domain": [0.155, 0.868], "nice": false, "zero": false},
      "axis": {"orient": "right", "values": [0.2,0.3,0.4,0.5,0.6,0.7,0.8], "labels": false, "tickSize": {"condition": {"test": "round(datum.value*10) % 2 === 0", "value": -6}, "value": -3.5}, "title": null}}}},
  {"data": {"values": [{}]}, "mark": {"type": "point", "opacity": 0},
   "encoding": {"x": {"datum": 55400, "type": "quantitative", "scale": {"domain": [55200, 55650], "nice": false, "zero": false}, "axis": null},
     "y": {"datum": 0.5, "type": "quantitative", "scale": {"domain": [0.155, 0.868], "nice": false, "zero": false},
      "axis": {"orient": "left", "values": [0.3,0.5,0.7,0.8], "labels": false, "tickSize": -3.5, "title": null}}}},
  {"layer": [
    {"data": {"values": [{}]}, "mark": {"type": "rect", "fill": "white", "stroke": "black", "strokeWidth": 1},
     "encoding": {"x": {"datum": 55560, "type": "quantitative", "axis": null, "scale": {"domain": [55560, 55634.3], "range": [179, 337], "nice": false, "zero": false}}, "x2": {"datum": 55634.3},
       "y": {"datum": 0.152, "type": "quantitative", "axis": null, "scale": {"domain": [0.152, 0.866], "range": [43, 9.7], "nice": false, "zero": false}}, "y2": {"datum": 0.866}}},
    {"data": {"name": "ir"}, "mark": {"type": "rule", "color": "black", "strokeWidth": 0.8, "strokeDash": [3, 2]},
     "encoding": {"x": {"field": "d", "type": "quantitative", "axis": null}, "y": {"datum": 0.152, "type": "quantitative", "axis": null}, "y2": {"datum": 0.866}}},
    {"data": {"name": "pts"}, "transform": [{"filter": "datum.p === 'd' && datum.d > 55500"}],
     "encoding": {"x": {"field": "d", "type": "quantitative", "axis": null}, "y": {"field": "v", "type": "quantitative", "axis": null}},
     "layer": [
       {"mark": {"type": "line", "color": "#555", "strokeWidth": 1, "strokeDash": [1.5, 2]}},
       {"mark": {"type": "circle", "size": 12, "color": "black", "opacity": 1}}
     ]}
  ]},
  {"data": {"values": [{}]}, "mark": {"type": "point", "opacity": 0},
   "encoding": {"x": {"datum": 55600, "type": "quantitative", "scale": {"domain": [55560, 55634.3], "range": [179, 337], "nice": false, "zero": false},
      "axis": {"orient": "bottom", "offset": -20, "values": [55560,55566,55572,55578,55584,55590,55596,55602,55608,55614,55620,55626,55632], "labels": false, "tickSize": {"condition": {"test": "(datum.value - 55560) % 30 === 0", "value": -5}, "value": -3}, "title": null, "zindex": 1}},
     "y": {"datum": 0.5, "type": "quantitative", "scale": {"domain": [0.152, 0.866], "range": [43, 9.7], "nice": false, "zero": false},
      "axis": {"orient": "left", "offset": -179, "values": [0.2,0.4,0.6], "format": ".1f", "labelOverlap": false, "labelFontSize": 9, "tickSize": -5, "labelPadding": 7, "title": null, "zindex": 1}}}},
  {"data": {"values": [{}]}, "mark": {"type": "point", "opacity": 0},
   "encoding": {"x": {"datum": 55600, "type": "quantitative", "scale": {"domain": [55560, 55634.3], "range": [179, 337], "nice": false, "zero": false},
      "axis": {"orient": "top", "offset": -9.7, "values": [55560,55566,55572,55578,55584,55590,55596,55602,55608,55614,55620,55626,55632], "labels": false, "tickSize": {"condition": {"test": "(datum.value - 55560) % 30 === 0", "value": -5}, "value": -3}, "title": null, "zindex": 1}},
     "y": {"datum": 0.5, "type": "quantitative", "scale": {"domain": [0.152, 0.866], "range": [43, 9.7], "nice": false, "zero": false},
      "axis": {"orient": "right", "offset": -98, "values": [0.2,0.3,0.4,0.5,0.6,0.7,0.8], "labels": false, "tickSize": {"condition": {"test": "round(datum.value*10) % 2 === 0", "value": -5}, "value": -3}, "title": null, "zindex": 1}}}},
  {"data": {"values": [{}]}, "mark": {"type": "point", "opacity": 0},
   "encoding": {"x": {"datum": 55600, "type": "quantitative", "scale": {"domain": [55560, 55634.3], "range": [179, 337], "nice": false, "zero": false}, "axis": null},
     "y": {"datum": 0.5, "type": "quantitative", "scale": {"domain": [0.152, 0.866], "range": [43, 9.7], "nice": false, "zero": false},
      "axis": {"orient": "left", "offset": -179, "values": [0.3,0.5,0.7,0.8], "labels": false, "tickSize": -3, "title": null, "zindex": 1}}}}
 ]
},
{
 "width": 435, "height": 63,
 "resolve": {"scale": {"x": "independent", "y": "independent"}},
 "layer": [
  {"layer": [
    {"data": {"name": "vr"}, "mark": {"type": "rule", "color": "black", "strokeWidth": 1, "strokeDash": [6, 3]},
     "encoding": {"x": {"field": "d", "type": "quantitative", "axis": null, "scale": {"domain": [55200, 55650], "nice": false, "zero": false}}}},
    {"data": {"name": "pts"}, "transform": [{"filter": "datum.p === 'e'"}],
     "encoding": {"x": {"field": "d", "type": "quantitative", "axis": null},
       "y": {"field": "v", "type": "quantitative", "axis": null, "scale": {"domain": [0.958, 1.928], "nice": false, "zero": false}}},
     "layer": [
       {"mark": {"type": "line", "color": "#555", "strokeWidth": 1, "strokeDash": [1.5, 2]}},
       {"transform": [{"filter": "datum.e > 0"}], "mark": {"type": "errorbar", "ticks": true, "size": 5, "thickness": 1, "color": "black"}, "encoding": {"yError": {"field": "e"}}},
       {"mark": {"type": "circle", "size": 12, "color": "black", "opacity": 1}}
     ]},
    {"data": {"name": "ann"}, "transform": [{"filter": "datum.p === 'e'"}],
     "mark": {"type": "text", "font": "Liberation Serif", "fontSize": 15, "color": "black", "align": "center", "baseline": "middle"},
     "encoding": {"x": {"field": "d", "type": "quantitative", "axis": null}, "y": {"field": "v", "type": "quantitative", "axis": null}, "text": {"field": "t"}}}
  ]},
  {"data": {"values": [{}]}, "mark": {"type": "point", "opacity": 0},
   "encoding": {"x": {"datum": 55400, "type": "quantitative", "scale": {"domain": [55200, 55650], "nice": false, "zero": false},
      "axis": {"title": "Day (MJD)", "orient": "bottom", "values": [55200,55250,55300,55350,55400,55450,55500,55550,55600,55650], "format": "d", "labelOverlap": false, "tickSize": -6, "labelPadding": 10, "titleFontSize": 14.5, "titlePadding": 1}},
     "y": {"datum": 1.2, "type": "quantitative", "scale": {"domain": [0.958, 1.928], "nice": false, "zero": false},
      "axis": {"title": "R", "orient": "left", "values": [1.2,1.5,1.8], "format": ".1f", "labelOverlap": false, "tickSize": -6, "labelPadding": 10, "titleX": -30, "titleY": 31.5, "titleAngle": -90, "titleAlign": "center", "titleBaseline": "middle", "titleFontSize": 13}}}},
  {"data": {"values": [{}]}, "mark": {"type": "point", "opacity": 0},
   "encoding": {"x": {"datum": 55400, "type": "quantitative", "scale": {"domain": [55200, 55650], "nice": false, "zero": false},
      "axis": {"orient": "top", "values": [55200,55210,55220,55230,55240,55250,55260,55270,55280,55290,55300,55310,55320,55330,55340,55350,55360,55370,55380,55390,55400,55410,55420,55430,55440,55450,55460,55470,55480,55490,55500,55510,55520,55530,55540,55550,55560,55570,55580,55590,55600,55610,55620,55630,55640,55650], "labels": false, "tickSize": {"condition": {"test": "datum.value % 50 === 0", "value": -6}, "value": -3.5}, "title": null}},
     "y": {"datum": 1.2, "type": "quantitative", "scale": {"domain": [0.958, 1.928], "nice": false, "zero": false},
      "axis": {"orient": "right", "values": [1.05,1.2,1.35,1.5,1.65,1.8], "labels": false, "tickSize": {"condition": {"test": "round(datum.value*100) % 30 === 0", "value": -6}, "value": -3.5}, "title": null}}}},
  {"data": {"values": [{}]}, "mark": {"type": "point", "opacity": 0},
   "encoding": {"x": {"datum": 55400, "type": "quantitative", "scale": {"domain": [55200, 55650], "nice": false, "zero": false},
      "axis": {"orient": "bottom", "values": [55210,55220,55230,55240,55260,55270,55280,55290,55310,55320,55330,55340,55360,55370,55380,55390,55410,55420,55430,55440,55460,55470,55480,55490,55510,55520,55530,55540,55560,55570,55580,55590,55610,55620,55630,55640], "labels": false, "tickSize": -3.5, "title": null}},
     "y": {"datum": 1.2, "type": "quantitative", "scale": {"domain": [0.958, 1.928], "nice": false, "zero": false},
      "axis": {"orient": "left", "values": [1.05,1.35,1.65], "labels": false, "tickSize": -3.5, "title": null}}}},
  {"layer": [
    {"data": {"values": [{}]}, "mark": {"type": "rect", "fill": "white", "stroke": "black", "strokeWidth": 1},
     "encoding": {"x": {"datum": 55560, "type": "quantitative", "axis": null, "scale": {"domain": [55560, 55634.3], "range": [179, 337], "nice": false, "zero": false}}, "x2": {"datum": 55634.3},
       "y": {"datum": 0.847, "type": "quantitative", "axis": null, "scale": {"domain": [0.847, 1.595], "range": [46, 10.5], "nice": false, "zero": false}}, "y2": {"datum": 1.595}}},
    {"data": {"name": "ir"}, "mark": {"type": "rule", "color": "black", "strokeWidth": 0.8, "strokeDash": [3, 2]},
     "encoding": {"x": {"field": "d", "type": "quantitative", "axis": null}, "y": {"datum": 0.847, "type": "quantitative", "axis": null}, "y2": {"datum": 1.595}}},
    {"data": {"name": "pts"}, "transform": [{"filter": "datum.p === 'e' && datum.d > 55500"}],
     "encoding": {"x": {"field": "d", "type": "quantitative", "axis": null}, "y": {"field": "v", "type": "quantitative", "axis": null}},
     "layer": [
       {"mark": {"type": "line", "color": "#555", "strokeWidth": 1, "strokeDash": [1.5, 2]}},
       {"transform": [{"filter": "datum.e > 0"}], "mark": {"type": "errorbar", "ticks": true, "size": 5, "thickness": 1, "color": "black"}, "encoding": {"yError": {"field": "e"}}},
       {"mark": {"type": "circle", "size": 12, "color": "black", "opacity": 1}}
     ]}
  ]},
  {"data": {"values": [{}]}, "mark": {"type": "point", "opacity": 0},
   "encoding": {"x": {"datum": 55600, "type": "quantitative", "scale": {"domain": [55560, 55634.3], "range": [179, 337], "nice": false, "zero": false},
      "axis": {"orient": "bottom", "offset": -17, "values": [55560,55590,55620], "format": "d", "labelOverlap": false, "tickSize": -5, "labelPadding": 9, "title": null, "zindex": 1}},
     "y": {"datum": 1.2, "type": "quantitative", "scale": {"domain": [0.847, 1.595], "range": [46, 10.5], "nice": false, "zero": false},
      "axis": {"orient": "left", "offset": -179, "values": [0.9,1.2,1.5], "format": ".1f", "labelOverlap": false, "tickSize": -5, "labelPadding": 7, "title": null, "zindex": 1}}}},
  {"data": {"values": [{}]}, "mark": {"type": "point", "opacity": 0},
   "encoding": {"x": {"datum": 55600, "type": "quantitative", "scale": {"domain": [55560, 55634.3], "range": [179, 337], "nice": false, "zero": false},
      "axis": {"orient": "top", "offset": -10.5, "values": [55560,55566,55572,55578,55584,55590,55596,55602,55608,55614,55620,55626,55632], "labels": false, "tickSize": {"condition": {"test": "(datum.value - 55560) % 30 === 0", "value": -5}, "value": -3}, "title": null, "zindex": 1}},
     "y": {"datum": 1.2, "type": "quantitative", "scale": {"domain": [0.847, 1.595], "range": [46, 10.5], "nice": false, "zero": false},
      "axis": {"orient": "right", "offset": -98, "values": [0.9,1.05,1.2,1.35,1.5], "labels": false, "tickSize": {"condition": {"test": "round(datum.value*100) % 30 === 0", "value": -5}, "value": -3}, "title": null, "zindex": 1}}}},
  {"data": {"values": [{}]}, "mark": {"type": "point", "opacity": 0},
   "encoding": {"x": {"datum": 55600, "type": "quantitative", "scale": {"domain": [55560, 55634.3], "range": [179, 337], "nice": false, "zero": false},
      "axis": {"orient": "bottom", "offset": -17, "values": [55566,55572,55578,55584,55596,55602,55608,55614,55626,55632], "labels": false, "tickSize": -3, "title": null, "zindex": 1}},
     "y": {"datum": 1.2, "type": "quantitative", "scale": {"domain": [0.847, 1.595], "range": [46, 10.5], "nice": false, "zero": false},
      "axis": {"orient": "left", "offset": -179, "values": [1.05,1.35], "labels": false, "tickSize": -3, "title": null, "zindex": 1}}}}
 ]
}
]
}
